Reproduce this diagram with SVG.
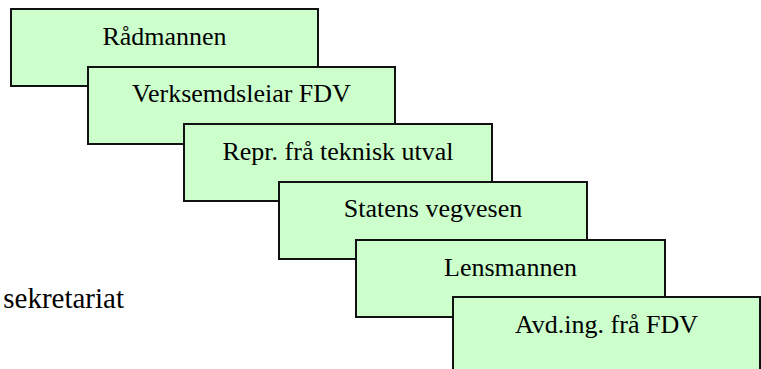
<svg xmlns="http://www.w3.org/2000/svg" width="761" height="369" viewBox="0 0 761 369">
<style>
.box{fill:#ccffcc;stroke:#111;stroke-width:2}
text{font-family:'Liberation Serif','Times New Roman',serif;font-size:26px;fill:#000}
.lbl{text-anchor:middle}
.free{text-anchor:end;font-size:29px}
</style>
<rect width="761" height="369" fill="#fff"/>
<g id="connectors"></g>
<g id="n1"><rect class="box" x="11" y="9" width="307" height="77"/><text class="lbl" x="164.5" y="45">Rådmannen</text></g>
<g id="n2"><rect class="box" x="88" y="67" width="307" height="77"/><text class="lbl" x="241.5" y="102">Verksemdsleiar FDV</text></g>
<g id="n3"><rect class="box" x="184" y="124" width="308" height="77"/><text class="lbl" x="338" y="160">Repr. frå teknisk utval</text></g>
<g id="n4"><rect class="box" x="279" y="182" width="308" height="77"/><text class="lbl" x="433" y="217">Statens vegvesen</text></g>
<g id="n5"><rect class="box" x="356" y="240" width="309" height="77"/><text class="lbl" x="510.5" y="276">Lensmannen</text></g>
<g id="n6"><rect class="box" x="453" y="297" width="307" height="80"/><text class="lbl" x="606.5" y="333">Avd.ing. frå FDV</text></g>
<text class="free" x="124" y="308">sekretariat</text>
</svg>
